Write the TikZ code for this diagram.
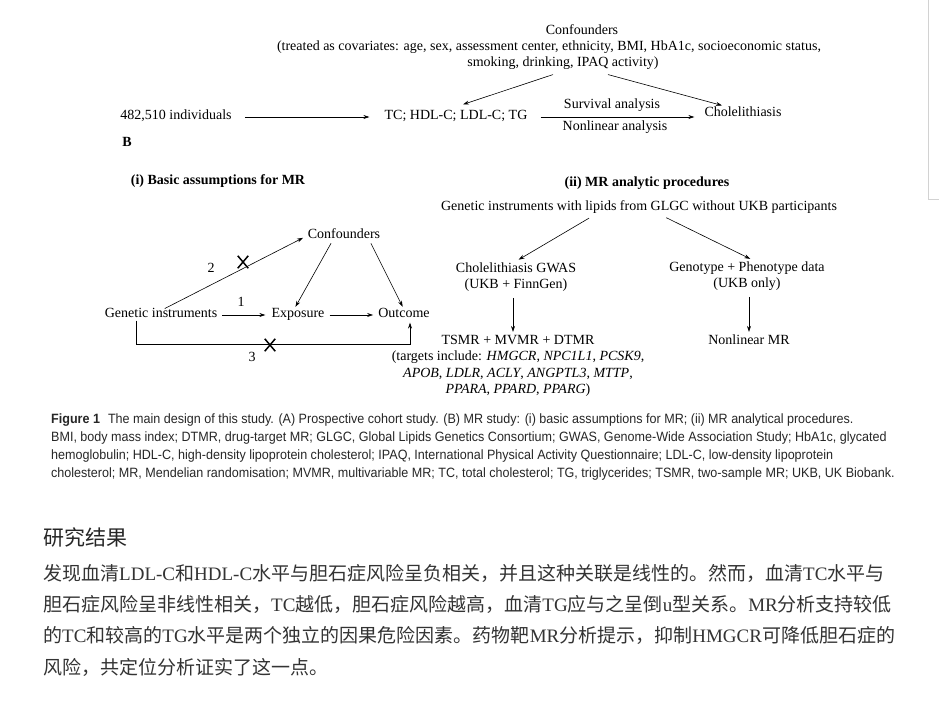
\documentclass[tikz,border=0pt]{standalone}
\usepackage{fontspec}
\setmainfont{Liberation Serif}
\newfontfamily\capfont[FakeStretch=0.93]{Liberation Sans}
\newfontfamily\cjk{Noto Sans CJK SC}
\usepackage{tikz}
\usetikzlibrary{arrows.meta, shapes.misc}
\newcommand{\zh}[1]{{\cjk #1}}

\begin{document}
\begin{tikzpicture}[x=1pt, y=-1pt,
    every node/.style={font=\fontsize{14}{16.5}\selectfont, inner sep=1pt},
    term/.style={text height=1.6ex, text depth=0.3ex},
    arr/.style={-{Stealth[length=6pt,width=4pt]}, line width=0.6pt},
    head/.style={font=\fontsize{14}{16}\selectfont\bfseries},
    nope/.style={cross out, draw, line width=1.5pt, minimum width=9pt, minimum height=11pt, inner sep=0pt},
    caption/.style={anchor=west, font=\fontsize{13.5}{16}\selectfont\capfont, text=black!85},
    zhline/.style={anchor=west, font=\fontsize{19}{24}\selectfont, text=black!80}]
    \useasboundingbox (0,0) rectangle (939,707);
    \draw[gray!35] (928,0) -- (928,199) -- (939,199);

    % A: cohort study
    \node (confA) at (582,30) {Confounders};
    \node (covA) at (549,47) {(treated as covariates: age, sex, assessment center, ethnicity, BMI, HbA1c, socioeconomic status,};
    \node (covB) at (563,63) {smoking, drinking, IPAQ activity)};
    \node[term] (ind) at (176,117) {482,510 individuals};
    \node[term] (tc) at (456,117) {TC; HDL-C; LDL-C; TG};
    \node[term] (chol) at (743,114) {Cholelithiasis};
    \node (surv) at (612,105) {Survival analysis};
    \node (nonl) at (615,127) {Nonlinear analysis};
    \draw[arr] ([xshift=-10pt,yshift=-4pt]covB.south) -- ([xshift=7pt,yshift=7pt]tc.north);
    \draw[arr] ([xshift=45pt,yshift=-4pt]covB.south) -- ([xshift=-21pt,yshift=3pt]chol.north);
    \draw[arr, shorten <=12pt, shorten >=14pt] (ind.east) -- (tc.west);
    \draw[arr, shorten <=12pt, shorten >=9pt] (tc.east) -- (tc.east -| chol.west);
    \node[head] (labB) at (127,142) {B};

    % B (i): assumptions
    \node[head] (headI) at (218,181) {(i) Basic assumptions for MR};
    \node[term] (gi) at (161,315) {Genetic instruments};
    \node[term] (expo) at (298,315) {Exposure};
    \node[term] (outc) at (404,315) {Outcome};
    \node[term] (conf) at (344,236) {Confounders};
    \draw[arr, shorten <=4pt, shorten >=5pt] (gi.east) -- (expo.west);
    \node (one) at (241,302) {1};
    \draw[arr, shorten <=4pt, shorten >=4pt] (expo.east) -- (outc.west);
    \draw[arr, shorten <=2pt, shorten >=4pt] ([xshift=2pt]gi.north) -- (conf.west);
    \node[nope] (x2) at (243,262) {};
    \node (two) at (211,268) {2};
    \draw[arr, shorten <=2pt, shorten >=3pt] ([xshift=-12pt]conf.south) -- ([xshift=-4pt]expo.north);
    \draw[arr, shorten <=2pt, shorten >=3pt] ([xshift=26pt]conf.south) -- (outc.north);
    \draw[arr, shorten >=2pt] ([xshift=-25pt]gi.south) -- ++(0,24) -| ([xshift=6pt]outc.south);
    \node[nope] (x3) at (270,345) {};
    \node (three) at (252,357) {3};

    % B (ii): procedures
    \node[head] (headII) at (647,183) {(ii) MR analytic procedures};
    \node (gen) at (639,207) {Genetic instruments with lipids from GLGC without UKB participants};
    \node[align=center] (gwas) at (516,277) {Cholelithiasis GWAS\\(UKB + FinnGen)};
    \node[align=center] (geno) at (747,276) {Genotype + Phenotype data\\(UKB only)};
    \node[align=center] (tsmr) at (518,366) {TSMR + MVMR + DTMR\\(targets include: \textit{HMGCR}, \textit{NPC1L1}, \textit{PCSK9},\\\textit{APOB}, \textit{LDLR}, \textit{ACLY}, \textit{ANGPTL3}, \textit{MTTP},\\\textit{PPARA}, \textit{PPARD}, \textit{PPARG})};
    \node (nlmr) at (749,340) {Nonlinear MR};
    \draw[arr, shorten <=7pt, shorten >=3pt] ([xshift=-44pt]gen.south) -- (gwas.north);
    \draw[arr, shorten <=7pt, shorten >=3pt] ([xshift=21pt]gen.south) -- ([xshift=6pt]geno.north);
    \draw[arr, shorten <=5pt, shorten >=2pt] ([xshift=-3pt]gwas.south) -- ([xshift=-5pt]tsmr.north);
    \draw[arr, shorten <=5pt, shorten >=2pt] ([xshift=2pt]geno.south) -- (nlmr.north);

    % caption
    \node[caption] (cap1) at (50,420) {\textbf{Figure 1}\hspace{8pt}The main design of this study. (A) Prospective cohort study. (B) MR study: (i) basic assumptions for MR; (ii) MR analytical procedures.};
    \node[caption] (cap2) at (50,438) {BMI, body mass index; DTMR, drug-target MR; GLGC, Global Lipids Genetics Consortium; GWAS, Genome-Wide Association Study; HbA1c, glycated};
    \node[caption] (cap3) at (50,456) {hemoglobulin; HDL-C, high-density lipoprotein cholesterol; IPAQ, International Physical Activity Questionnaire; LDL-C, low-density lipoprotein};
    \node[caption] (cap4) at (50,474) {cholesterol; MR, Mendelian randomisation; MVMR, multivariable MR; TC, total cholesterol; TG, triglycerides; TSMR, two-sample MR; UKB, UK Biobank.};

    % results text
    \node[anchor=west, font=\fontsize{21}{24}\selectfont\cjk, text=black!85] (res) at (42,537) {研究结果};
    \node[zhline] (z1) at (42,573) {\zh{发现血清}LDL-C\zh{和}HDL-C\zh{水平与胆石症风险呈负相关，并且这种关联是线性的。然而，血清}TC\zh{水平与}};
    \node[zhline] (z2) at (42,604) {\zh{胆石症风险呈非线性相关，}TC\zh{越低，胆石症风险越高，血清}TG\zh{应与之呈倒}u\zh{型关系。}MR\zh{分析支持较低}};
    \node[zhline] (z3) at (42,635) {\zh{的}TC\zh{和较高的}TG\zh{水平是两个独立的因果危险因素。药物靶}MR\zh{分析提示，抑制}HMGCR\zh{可降低胆石症的}};
    \node[zhline] (z4) at (42,667) {\zh{风险，共定位分析证实了这一点。}};
\end{tikzpicture}
\end{document}
